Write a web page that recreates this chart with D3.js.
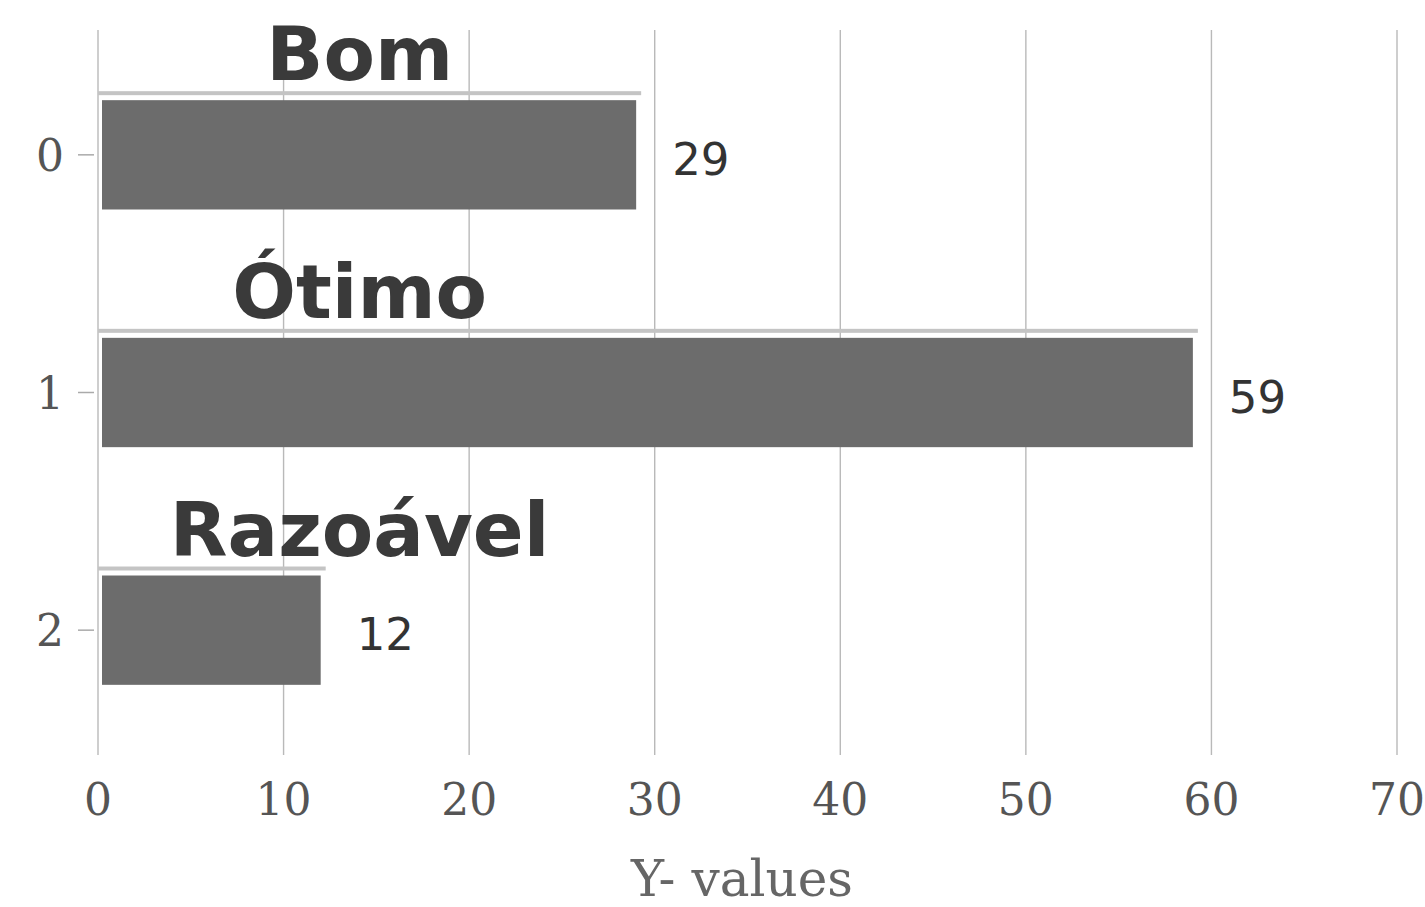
<!DOCTYPE html>
<html>
<head>
<meta charset="utf-8">
<script src="https://cdn.jsdelivr.net/npm/d3@7"></script>
<style>
  body { margin: 0; background: #fff; }
  svg { display: block; }
</style>
</head>
<body>
<div class="chart"></div>
<script>
'use strict';

// data
var categories = ["0", "1", "2"];
var labels = ["Bom", "Ótimo", "Razoável"];
var values = [29, 59, 12];
var xTicks = [0, 10, 20, 30, 40, 50, 60, 70];
var xTitle = "Y- values";

var width = 1425;
var height = 907;

var svg = d3.select(".chart").append("svg")
    .attr("width", width)
    .attr("height", height);

var x = d3.scaleLinear().domain([0, 70]).range([98, 1397]);
var y = d3.scaleBand().domain(categories).range([36, 749]).paddingInner(0.54).paddingOuter(0.27);

// grid lines
svg.append("g").selectAll("line")
    .data(xTicks)
    .enter().append("line")
    .attr("x1", d => x(d))
    .attr("x2", d => x(d))
    .attr("y1", 30)
    .attr("y2", 755)
    .attr("stroke", "#b9b9b9")
    .attr("stroke-width", 1.4);

// x tick labels
svg.append("g").selectAll("text")
    .data(xTicks)
    .enter().append("text")
    .attr("x", d => x(d))
    .attr("y", 815)
    .attr("text-anchor", "middle")
    .attr("font-family", "DejaVu Serif")
    .attr("font-size", "44px")
    .attr("fill", "#555")
    .text(d => d);

// y ticks + labels
var yAxis = svg.append("g");
yAxis.selectAll("line")
    .data(categories)
    .enter().append("line")
    .attr("x1", 78)
    .attr("x2", 94)
    .attr("y1", d => y(d) + y.bandwidth() / 2)
    .attr("y2", d => y(d) + y.bandwidth() / 2)
    .attr("stroke", "#aaa")
    .attr("stroke-width", 1.5);
yAxis.selectAll("text")
    .data(categories)
    .enter().append("text")
    .attr("x", 64)
    .attr("y", d => y(d) + y.bandwidth() / 2 + 16)
    .attr("text-anchor", "end")
    .attr("font-family", "DejaVu Serif")
    .attr("font-size", "44px")
    .attr("fill", "#555")
    .text(d => d);

var rows = categories.map((c, i) => ({cat: c, label: labels[i], value: values[i]}));

var bar = svg.append("g").selectAll("g")
    .data(rows)
    .enter().append("g");

// faint line over each bar
bar.append("rect")
    .attr("x", x(0))
    .attr("y", d => y(d.cat) - 9)
    .attr("width", d => x(d.value) - x(0) + 5)
    .attr("height", 4)
    .attr("fill", "#c4c4c4");

bar.append("rect")
    .attr("x", x(0) + 4)
    .attr("y", d => y(d.cat))
    .attr("width", d => x(d.value) - x(0) - 4)
    .attr("height", y.bandwidth())
    .attr("fill", "#6c6c6c");

// value labels
bar.append("text")
    .attr("x", d => x(d.value) + 36)
    .attr("y", d => y(d.cat) + y.bandwidth() / 2 + 20)
    .attr("font-family", "DejaVu Sans")
    .attr("font-size", "45px")
    .attr("fill", "#333")
    .text(d => d.value);

// category names above bars
bar.append("text")
    .attr("x", x(14.1))
    .attr("y", d => y(d.cat) - 20)
    .attr("text-anchor", "middle")
    .attr("font-family", "DejaVu Sans")
    .attr("font-weight", "bold")
    .attr("font-size", "75px")
    .attr("fill", "#3a3a3a")
    .text(d => d.label);

// axis title
svg.append("text")
    .attr("x", 742)
    .attr("y", 896)
    .attr("text-anchor", "middle")
    .attr("font-family", "DejaVu Serif")
    .attr("font-size", "50px")
    .attr("fill", "#666")
    .text(xTitle);
</script>
</body>
</html>
